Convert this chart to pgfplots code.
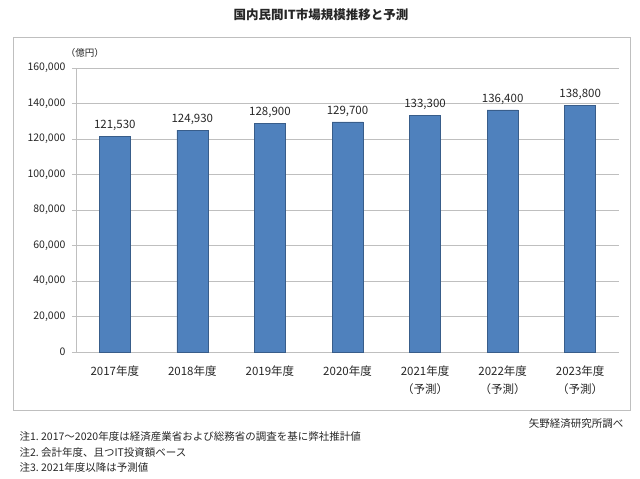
\documentclass[border=0pt]{standalone}
\usepackage{fontspec}
\setmainfont{Noto Sans CJK JP}
\usepackage{pgfplots}
\pgfplotsset{compat=1.18}
\definecolor{barblue}{HTML}{4F81BD}
\definecolor{baredge}{HTML}{385D8A}
\definecolor{gridgray}{HTML}{BFBFBF}
\definecolor{txt}{HTML}{262626}
\begin{document}
\begin{tikzpicture}[x=1pt,y=1pt]
\useasboundingbox (-76,352) rectangle (564,-127);
\draw[gridgray, line width=0.8pt] (-63,315) rectangle (554,-58);
\begin{axis}[
  at={(0,0)}, anchor=south west,
  scale only axis, width=543pt, height=284pt,
  xmin=-0.5, xmax=6.5, ymin=0, ymax=160000,
  axis lines*=left,
  axis line style={gridgray},
  ymajorgrids, grid style={gridgray, line width=0.6pt},
  ytick={0,20000,...,160000},
  tick style={gridgray},
  ytick align=outside, tick pos=left,
  major tick length=4pt,
  xtick={0,...,6},
  xticklabels={2017年度,2018年度,2019年度,2020年度,2021年度\\（予測）,2022年度\\（予測）,2023年度\\（予測）},
  xticklabel style={align=center, font=\fontsize{11.5}{18}\selectfont, text=txt, anchor=north, yshift=-10pt},
  xtick style={draw=none},
  extra x ticks={-0.5,0.5,1.5,2.5,3.5,4.5,5.5,6.5},
  extra x tick labels={},
  extra x tick style={tick style={gridgray, draw=gridgray}, xtick align=outside, major tick length=4pt, grid=none},
  yticklabel style={font=\fontsize{10.5}{12}\selectfont, text=txt, xshift=-3pt},
  /pgf/number format/assume math mode=true,
  /pgf/number format/.cd, 1000 sep={,}, fixed,
  /pgfplots/.cd,
  scaled y ticks=false,
]
\addplot[ybar, bar width=31pt, fill=barblue, draw=baredge, line width=0.5pt,
  nodes near coords,
  nodes near coords style={font=\fontsize{11.5}{13}\selectfont, text=txt, yshift=2pt, /pgf/number format/.cd, 1000 sep={,}, fixed, assume math mode=true},
] coordinates {(0,121530) (1,124930) (2,128900) (3,129700) (4,133300) (5,136400) (6,138800)};
\end{axis}
\node[font=\bfseries\fontsize{12.5}{14}\selectfont, text=txt] at (245,337) {国内民間IT市場規模推移と予測};
\node[font=\fontsize{9.5}{11}\selectfont, text=txt] at (9,299) {（億円）};
\node[font=\fontsize{10.5}{12}\selectfont, text=txt, anchor=east] at (551,-72) {矢野経済研究所調べ};
\node[font=\fontsize{10.5}{12}\selectfont, text=txt, anchor=west] at (-60,-85) {注1.\ 2017〜2020年度は経済産業省および総務省の調査を基に弊社推計値};
\node[font=\fontsize{10.5}{12}\selectfont, text=txt, anchor=west] at (-60,-101) {注2.\ 会計年度、且つIT投資額ベース};
\node[font=\fontsize{10.5}{12}\selectfont, text=txt, anchor=west] at (-60,-116) {注3.\ 2021年度以降は予測値};
\end{tikzpicture}
\end{document}
